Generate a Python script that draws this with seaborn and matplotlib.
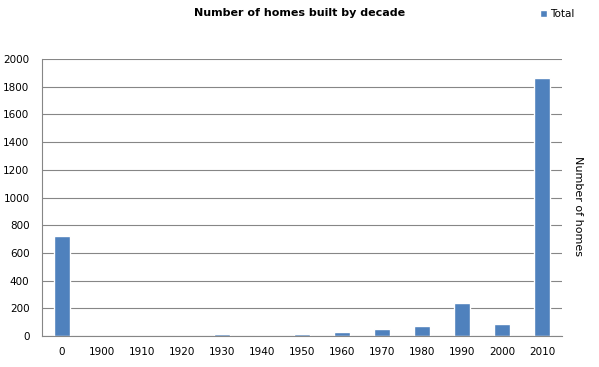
import numpy as np
import matplotlib
matplotlib.use("Agg")
import matplotlib.pyplot as plt
import seaborn as sns
import pandas as pd

decades = ["0", "1900", "1910", "1920", "1930", "1940", "1950",
           "1960", "1970", "1980", "1990", "2000", "2010"]
homes = [725, 0, 0, 0, 12, 0, 12, 28, 50, 72, 240, 85, 1860]

df = pd.DataFrame({"decade": decades, "homes": homes})

sns.set_style("white")
plt.rcParams["font.family"] = ["DejaVu Sans"]
plt.rcParams["text.color"] = "black"
plt.rcParams["xtick.color"] = "black"
plt.rcParams["ytick.color"] = "black"

fig = plt.figure(figsize=(5.99, 3.67), dpi=100)
ax = fig.add_axes([0.0701, 0.0845, 0.868, 0.7545])

grey = "#868686"
sns.barplot(data=df, x="decade", y="homes", order=decades, color="#4F81BD",
            width=0.4, saturation=1, label="Total", ax=ax)

ax.set_ylim(0, 2000)
ax.set_xlim(-0.5, len(decades) - 0.5)
ax.set_yticks(np.arange(0, 2001, 200))
ax.yaxis.grid(True, color=grey, linewidth=0.8)
ax.set_axisbelow(True)
ax.set_xlabel("")
ax.set_ylabel("")

for s in ["top", "right"]:
    ax.spines[s].set_visible(False)
for s in ["left", "bottom"]:
    ax.spines[s].set_color(grey)
    ax.spines[s].set_linewidth(0.8)

ax.set_xticks(np.arange(-0.5, len(decades)), minor=True)
ax.tick_params(axis="x", which="major", length=0, labelsize=7.5, pad=8,
               labelcolor="black")
ax.tick_params(axis="x", which="minor", length=5, color=grey, width=0.8)
ax.tick_params(axis="y", which="major", length=5, color=grey, width=0.8,
               labelsize=7.5, pad=4, labelcolor="black")
ax.tick_params(axis="both", direction="out")

fig.text(0.50, 0.965, "Number of homes built by decade", ha="center",
         va="center", fontsize=8, fontweight="bold", color="black")
fig.text(0.965, 0.44, "Number of homes", rotation=270, ha="center",
         va="center", fontsize=8, color="black")

leg = ax.legend(loc="upper right", bbox_to_anchor=(0.975, 1.0),
                bbox_transform=fig.transFigure, frameon=False, fontsize=7.5,
                handlelength=0.7, handleheight=0.7, handletextpad=0.3,
                labelcolor="black")

fig.savefig("out.png", dpi=100)
